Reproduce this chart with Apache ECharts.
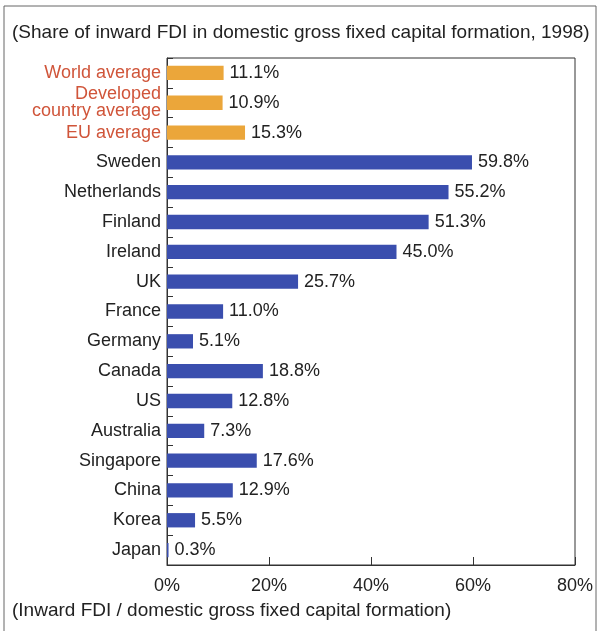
<!DOCTYPE html>
<html>
<head>
<meta charset="utf-8">
<script src="https://cdn.jsdelivr.net/npm/echarts@6/dist/echarts.min.js"></script>
<style>
  html, body { margin: 0; padding: 0; background: #fff; }
  #chart { width: 600px; height: 631px; }
</style>
</head>
<body>
<div id="chart"></div>
<script>
// categories top to bottom
const categories = [
  'World average', 'Developed\ncountry average', 'EU average',
  'Sweden', 'Netherlands', 'Finland', 'Ireland', 'UK', 'France', 'Germany',
  'Canada', 'US', 'Australia', 'Singapore', 'China', 'Korea', 'Japan'
];
const shares = [11.1, 10.9, 15.3, 59.8, 55.2, 51.3, 45.0, 25.7, 11.0, 5.1, 18.8, 12.8, 7.3, 17.6, 12.9, 5.5, 0.3];
const averageCount = 3;
const xTicks = [0, 20, 40, 60, 80];

const titleText = '(Share of inward FDI in domestic gross fixed capital formation, 1998)';
const axisNote = '(Inward FDI / domestic gross fixed capital formation)';

const ORANGE = '#eba63a';
const BLUE = '#3a4eae';
const RED_TEXT = '#d0553a';
const FONT = 'Liberation Sans, Arial, sans-serif';

const chart = echarts.init(document.getElementById('chart'));

// category axis runs bottom-up, so reverse
const cats = categories.slice().reverse();
const barData = shares.map((v, i) => ({
  value: v,
  itemStyle: { color: i < averageCount ? ORANGE : BLUE }
})).reverse();

chart.setOption({
  animation: false,
  textStyle: { fontFamily: FONT },
  graphic: [
    {
      type: 'rect',
      shape: { x: 4, y: 6, width: 592, height: 640 },
      style: { fill: 'none', stroke: '#666', lineWidth: 1 }
    },
    {
      type: 'text', left: 12, top: 23,
      style: { text: titleText, font: '19px ' + FONT, fill: '#222' }
    },
    {
      type: 'text', left: 12, top: 601,
      style: { text: axisNote, font: '19px ' + FONT, fill: '#222' }
    }
  ],
  grid: {
    left: 167, right: 25, top: 58, bottom: 66,
    show: true, borderColor: '#333', borderWidth: 1
  },
  xAxis: {
    type: 'value',
    min: 0, max: 80, interval: 20,
    axisLine: { show: true, lineStyle: { color: '#333' } },
    axisTick: { show: true, inside: true, length: 8, lineStyle: { color: '#333' } },
    splitLine: { show: false },
    axisLabel: {
      formatter: v => xTicks.includes(v) ? v + '%' : '',
      color: '#222', fontSize: 18, margin: 12, fontFamily: FONT
    }
  },
  yAxis: {
    type: 'category',
    data: cats,
    axisLine: { show: true, lineStyle: { color: '#333' } },
    axisTick: { show: true, inside: true, length: 6, alignWithLabel: false, lineStyle: { color: '#333' } },
    axisLabel: {
      fontSize: 18, margin: 6, lineHeight: 17, fontFamily: FONT,
      color: (val) => {
        const idx = categories.indexOf(val);
        return idx >= 0 && idx < averageCount ? RED_TEXT : '#222';
      }
    }
  },
  series: [{
    type: 'bar',
    data: barData,
    barCategoryGap: '52%',
    label: {
      show: true, position: 'right', distance: 6,
      color: '#222', fontSize: 18, fontFamily: FONT,
      formatter: p => p.value.toFixed(1) + '%'
    }
  }]
});
</script>
</body>
</html>
